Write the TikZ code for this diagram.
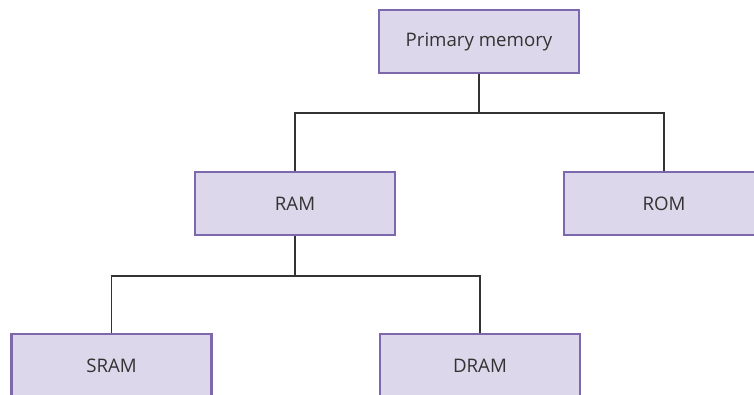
\documentclass[tikz,border=0pt]{standalone}
\usepackage{fontspec}
\setmainfont{Open Sans}
\usepackage{tikz}
\usetikzlibrary{positioning,calc}
\definecolor{memfill}{HTML}{DCD7EA}
\definecolor{memdraw}{HTML}{7D67AD}
\definecolor{memtext}{HTML}{333333}
\tikzset{
  membox/.style={draw=memdraw, line width=1.8pt, fill=memfill, align=center,
    font=\fontsize{14}{16}\selectfont, text=memtext,
    minimum width=150pt, minimum height=47pt, inner sep=2pt},
  memlink/.style={draw=black!80, line width=0.8pt},
}

\begin{document}
\begin{tikzpicture}[x=0.75pt, y=-0.75pt]
  \clip (0,0) rectangle (754,395);
  \useasboundingbox (0,0) rectangle (754,395);
  % boxes
  \node[membox] (prim) at (479,41.5) {Primary memory};
  \node[membox] (ram)  at (295,203.5) {RAM};
  \node[membox] (rom)  at (664,203.5) {ROM};
  \node[membox] (sram) at (111.5,365.5) {SRAM};
  \node[membox] (dram) at (480,365.5) {DRAM};
  % branch points
  \coordinate (busA) at (479,113);
  \coordinate (busB) at (295,276);
  % connectors
  \draw[memlink] (prim.south) -- (busA);
  \draw[memlink] (ram.north) |- (busA) -| (rom.north);
  \draw[memlink] (ram.south) -- (busB);
  \draw[memlink] (sram.north) |- (busB) -| (dram.north);
\end{tikzpicture}
\end{document}
